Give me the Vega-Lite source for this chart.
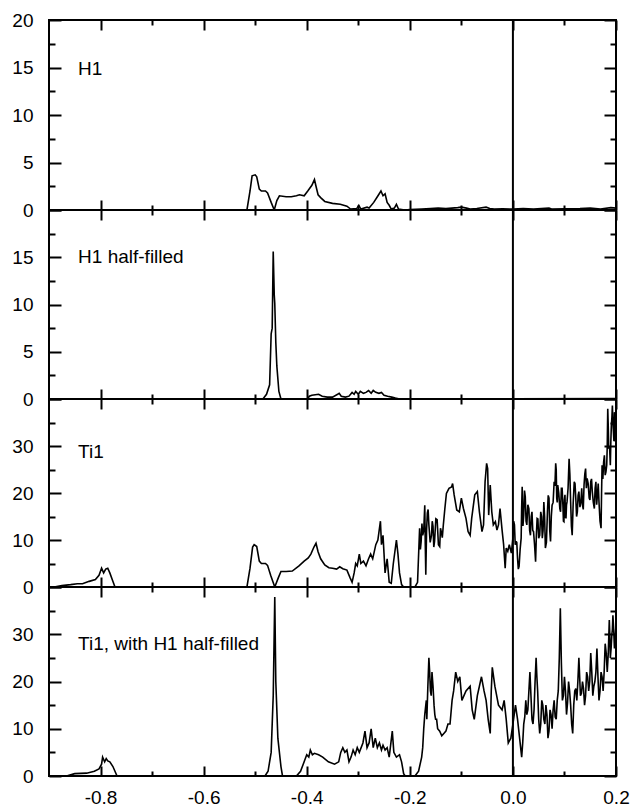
{
  "$schema": "https://vega.github.io/schema/vega-lite/v6.json",
  "background": "white",
  "padding": {"left": 10, "top": 10, "right": 5, "bottom": 5},
  "config": {
    "view": {"stroke": "black", "strokeWidth": 2},
    "locale": {"number": {"decimal": ".", "thousands": ",", "grouping": [3], "currency": ["$", ""], "minus": "-"}},
    "axis": {"labelFont": "Liberation Sans", "labelFontSize": 19, "labelColor": "black", "tickColor": "black", "tickWidth": 2, "domain": false, "grid": false, "title": null, "labelOverlap": false, "labelBound": false, "labelFlush": false},
    "text": {"font": "Liberation Sans", "fontSize": 19, "color": "black"},
    "line": {"strokeWidth": 1.6, "color": "black"}
  },
  "datasets": {
    "h1": [
      {"x":-0.9,"y":0},{"x":-0.516,"y":0},{"x":-0.51,"y":2.0},{"x":-0.506,"y":3.6},{"x":-0.5,"y":3.7},{"x":-0.497,"y":3.5},{"x":-0.492,"y":2.2},{"x":-0.488,"y":2.0},{"x":-0.48,"y":2.0},{"x":-0.476,"y":1.8},{"x":-0.469,"y":0.8},{"x":-0.463,"y":0},{"x":-0.458,"y":1.0},{"x":-0.453,"y":1.5},{"x":-0.44,"y":1.4},{"x":-0.43,"y":1.4},{"x":-0.42,"y":1.5},{"x":-0.414,"y":1.6},{"x":-0.405,"y":1.5},{"x":-0.398,"y":2.0},{"x":-0.39,"y":2.6},{"x":-0.385,"y":3.2},{"x":-0.382,"y":2.5},{"x":-0.378,"y":1.6},{"x":-0.373,"y":1.3},{"x":-0.365,"y":0.9},{"x":-0.35,"y":0.7},{"x":-0.335,"y":0.6},{"x":-0.322,"y":0.4},{"x":-0.315,"y":0.1},{"x":-0.303,"y":0.15},{"x":-0.299,"y":0.5},{"x":-0.295,"y":0.1},{"x":-0.283,"y":0.3},{"x":-0.279,"y":0.2},{"x":-0.27,"y":0.8},{"x":-0.263,"y":1.4},{"x":-0.256,"y":2.0},{"x":-0.252,"y":1.5},{"x":-0.248,"y":1.7},{"x":-0.244,"y":0.8},{"x":-0.24,"y":0.5},{"x":-0.236,"y":0.1},{"x":-0.23,"y":0.2},{"x":-0.226,"y":0.6},{"x":-0.222,"y":0.1},{"x":-0.21,"y":0},{"x":-0.2,"y":0.05},{"x":-0.177,"y":0.1},{"x":-0.16,"y":0.15},{"x":-0.145,"y":0.2},{"x":-0.13,"y":0.15},{"x":-0.107,"y":0.25},{"x":-0.1,"y":0.3},{"x":-0.09,"y":0.2},{"x":-0.083,"y":0.1},{"x":-0.07,"y":0.15},{"x":-0.052,"y":0.3},{"x":-0.045,"y":0.15},{"x":-0.036,"y":0.1},{"x":-0.02,"y":0.12},{"x":0,"y":0.1},{"x":0.02,"y":0.15},{"x":0.04,"y":0.1},{"x":0.07,"y":0.2},{"x":0.075,"y":0.1},{"x":0.1,"y":0.12},{"x":0.13,"y":0.15},{"x":0.15,"y":0.2},{"x":0.17,"y":0.1},{"x":0.19,"y":0.25},{"x":0.2,"y":0.2}
    ],
    "h1h": [
      {"x":-0.9,"y":0},{"x":-0.485,"y":0},{"x":-0.478,"y":0.5},{"x":-0.472,"y":1.5},{"x":-0.469,"y":6.9},{"x":-0.467,"y":7.5},{"x":-0.465,"y":15.6},{"x":-0.463,"y":11},{"x":-0.462,"y":10.1},{"x":-0.46,"y":6},{"x":-0.458,"y":3.5},{"x":-0.454,"y":0.8},{"x":-0.45,"y":0},{"x":-0.398,"y":0},{"x":-0.395,"y":0.3},{"x":-0.39,"y":0.4},{"x":-0.377,"y":0.5},{"x":-0.37,"y":0.3},{"x":-0.36,"y":0.2},{"x":-0.35,"y":0.2},{"x":-0.34,"y":0.5},{"x":-0.337,"y":0.6},{"x":-0.333,"y":0.3},{"x":-0.325,"y":0.2},{"x":-0.318,"y":0.3},{"x":-0.312,"y":0.7},{"x":-0.308,"y":0.5},{"x":-0.305,"y":0.8},{"x":-0.3,"y":0.5},{"x":-0.296,"y":0.8},{"x":-0.29,"y":0.6},{"x":-0.285,"y":0.7},{"x":-0.28,"y":0.9},{"x":-0.275,"y":0.6},{"x":-0.271,"y":0.9},{"x":-0.266,"y":0.7},{"x":-0.26,"y":0.6},{"x":-0.255,"y":0.7},{"x":-0.25,"y":0.4},{"x":-0.243,"y":0.3},{"x":-0.235,"y":0.2},{"x":-0.228,"y":0.1},{"x":-0.22,"y":0},{"x":-0.15,"y":0.03},{"x":0,"y":0.02},{"x":0.2,"y":0.05}
    ],
    "ti1": [
      {"x":-0.9,"y":0},{"x":-0.89,"y":0},{"x":-0.875,"y":0.3},{"x":-0.858,"y":0.5},{"x":-0.845,"y":0.7},{"x":-0.835,"y":0.7},{"x":-0.822,"y":1.2},{"x":-0.81,"y":1.6},{"x":-0.803,"y":2.5},{"x":-0.798,"y":4.0},{"x":-0.794,"y":3.0},{"x":-0.79,"y":3.8},{"x":-0.786,"y":4.0},{"x":-0.782,"y":3.0},{"x":-0.777,"y":1.5},{"x":-0.772,"y":0},{"x":-0.516,"y":0},{"x":-0.51,"y":4},{"x":-0.505,"y":8.5},{"x":-0.502,"y":9.0},{"x":-0.497,"y":8.6},{"x":-0.492,"y":5.5},{"x":-0.488,"y":5.0},{"x":-0.48,"y":5.0},{"x":-0.476,"y":4.6},{"x":-0.47,"y":2.5},{"x":-0.462,"y":0},{"x":-0.455,"y":2.0},{"x":-0.45,"y":3.3},{"x":-0.44,"y":3.3},{"x":-0.428,"y":3.4},{"x":-0.415,"y":4.5},{"x":-0.405,"y":5.5},{"x":-0.397,"y":6.2},{"x":-0.392,"y":7.0},{"x":-0.386,"y":8.5},{"x":-0.382,"y":9.3},{"x":-0.378,"y":7.5},{"x":-0.373,"y":6.0},{"x":-0.365,"y":4.7},{"x":-0.357,"y":4.1},{"x":-0.35,"y":4.0},{"x":-0.342,"y":3.8},{"x":-0.336,"y":4.3},{"x":-0.33,"y":3.9},{"x":-0.322,"y":3.6},{"x":-0.316,"y":2.0},{"x":-0.312,"y":1.0},{"x":-0.308,"y":3.0},{"x":-0.305,"y":5.0},{"x":-0.302,"y":4.5},{"x":-0.298,"y":7.0},{"x":-0.295,"y":5.0},{"x":-0.29,"y":5.5},{"x":-0.285,"y":4.5},{"x":-0.28,"y":6.0},{"x":-0.276,"y":7.0},{"x":-0.272,"y":6.0},{"x":-0.266,"y":9.0},{"x":-0.262,"y":10.0},{"x":-0.257,"y":14.0},{"x":-0.255,"y":9.0},{"x":-0.252,"y":11.0},{"x":-0.248,"y":3.0},{"x":-0.244,"y":6},{"x":-0.24,"y":1.0},{"x":-0.236,"y":0.8},{"x":-0.232,"y":5.0},{"x":-0.226,"y":10.0},{"x":-0.223,"y":7},{"x":-0.22,"y":3.0},{"x":-0.216,"y":0.5},{"x":-0.212,"y":0},{"x":-0.19,"y":0},{"x":-0.185,"y":1},{"x":-0.181,"y":12.5},{"x":-0.1795,"y":8},{"x":-0.178,"y":9.7},{"x":-0.1765,"y":13.5},{"x":-0.175,"y":11},{"x":-0.173,"y":12},{"x":-0.171,"y":17.4},{"x":-0.17,"y":9},{"x":-0.169,"y":2.6},{"x":-0.1675,"y":12},{"x":-0.166,"y":15.7},{"x":-0.1645,"y":16.5},{"x":-0.163,"y":13.2},{"x":-0.1605,"y":9.5},{"x":-0.158,"y":11},{"x":-0.1565,"y":14},{"x":-0.155,"y":12.9},{"x":-0.1535,"y":8.5},{"x":-0.152,"y":9.7},{"x":-0.1495,"y":14.5},{"x":-0.147,"y":14.3},{"x":-0.1445,"y":9},{"x":-0.142,"y":8.6},{"x":-0.1405,"y":12.5},{"x":-0.139,"y":11.8},{"x":-0.137,"y":10.5},{"x":-0.135,"y":13.2},{"x":-0.132,"y":16.7},{"x":-0.129,"y":19.9},{"x":-0.124,"y":21},{"x":-0.119,"y":21.3},{"x":-0.117,"y":22},{"x":-0.114,"y":19.6},{"x":-0.109,"y":16.4},{"x":-0.104,"y":16},{"x":-0.1,"y":18.9},{"x":-0.096,"y":16.7},{"x":-0.091,"y":14.6},{"x":-0.087,"y":11.8},{"x":-0.083,"y":11},{"x":-0.08,"y":14.6},{"x":-0.074,"y":19.6},{"x":-0.069,"y":20.3},{"x":-0.065,"y":16},{"x":-0.06,"y":11.8},{"x":-0.057,"y":13.2},{"x":-0.054,"y":22.4},{"x":-0.051,"y":26.3},{"x":-0.049,"y":25.2},{"x":-0.047,"y":15.3},{"x":-0.044,"y":21.7},{"x":-0.041,"y":16},{"x":-0.038,"y":13.2},{"x":-0.034,"y":13.9},{"x":-0.031,"y":12.1},{"x":-0.028,"y":13.2},{"x":-0.025,"y":16.7},{"x":-0.021,"y":12.1},{"x":-0.018,"y":9},{"x":-0.015,"y":4},{"x":-0.013,"y":8.3},{"x":-0.01,"y":7.6},{"x":-0.007,"y":9},{"x":-0.003,"y":7.2},{"x":0,"y":10.4},{"x":0.0015,"y":14},{"x":0.003,"y":13.2},{"x":0.0045,"y":9},{"x":0.006,"y":9.7},{"x":0.0075,"y":9.5},{"x":0.009,"y":6.1},{"x":0.0105,"y":3.8},{"x":0.012,"y":4.4},{"x":0.014,"y":8},{"x":0.016,"y":10.4},{"x":0.017,"y":17},{"x":0.018,"y":21.3},{"x":0.0195,"y":13},{"x":0.021,"y":15.3},{"x":0.0225,"y":20.5},{"x":0.024,"y":19.2},{"x":0.0255,"y":14},{"x":0.027,"y":13.2},{"x":0.029,"y":17.5},{"x":0.031,"y":16.7},{"x":0.0325,"y":12},{"x":0.034,"y":11},{"x":0.0355,"y":15},{"x":0.037,"y":16},{"x":0.0385,"y":12},{"x":0.04,"y":11.8},{"x":0.042,"y":9},{"x":0.044,"y":5.4},{"x":0.0455,"y":11},{"x":0.047,"y":14.6},{"x":0.0485,"y":14.5},{"x":0.05,"y":10.4},{"x":0.052,"y":11},{"x":0.054,"y":16},{"x":0.0555,"y":15},{"x":0.057,"y":10.4},{"x":0.0585,"y":12},{"x":0.06,"y":18.1},{"x":0.0615,"y":15},{"x":0.063,"y":8.3},{"x":0.065,"y":9.5},{"x":0.067,"y":16},{"x":0.0685,"y":19.5},{"x":0.07,"y":18.9},{"x":0.0715,"y":12},{"x":0.073,"y":9.7},{"x":0.0745,"y":15},{"x":0.076,"y":17.4},{"x":0.078,"y":18},{"x":0.08,"y":22.4},{"x":0.0815,"y":21.5},{"x":0.083,"y":26.3},{"x":0.084,"y":25},{"x":0.085,"y":18.9},{"x":0.086,"y":18},{"x":0.087,"y":21.7},{"x":0.089,"y":20},{"x":0.091,"y":16.7},{"x":0.0925,"y":16},{"x":0.094,"y":21},{"x":0.0955,"y":21},{"x":0.097,"y":17.4},{"x":0.098,"y":14},{"x":0.099,"y":13.9},{"x":0.1,"y":18.5},{"x":0.101,"y":19.6},{"x":0.102,"y":15},{"x":0.103,"y":14.6},{"x":0.104,"y":17.5},{"x":0.105,"y":18.1},{"x":0.107,"y":21},{"x":0.109,"y":27.3},{"x":0.1105,"y":24},{"x":0.112,"y":18.1},{"x":0.1135,"y":13},{"x":0.115,"y":11},{"x":0.117,"y":18},{"x":0.119,"y":22.4},{"x":0.1205,"y":22},{"x":0.122,"y":18.9},{"x":0.1235,"y":15},{"x":0.125,"y":16},{"x":0.1265,"y":19.5},{"x":0.128,"y":20.3},{"x":0.13,"y":17},{"x":0.132,"y":18.1},{"x":0.1335,"y":21},{"x":0.135,"y":17.4},{"x":0.1365,"y":16.5},{"x":0.138,"y":21.7},{"x":0.1395,"y":24},{"x":0.141,"y":25.2},{"x":0.1425,"y":21},{"x":0.144,"y":23.1},{"x":0.146,"y":22},{"x":0.148,"y":18.9},{"x":0.1495,"y":18.5},{"x":0.151,"y":22.4},{"x":0.1525,"y":23},{"x":0.154,"y":20.3},{"x":0.156,"y":18},{"x":0.158,"y":16.7},{"x":0.1595,"y":21},{"x":0.161,"y":22.4},{"x":0.1625,"y":17.5},{"x":0.164,"y":19.6},{"x":0.1655,"y":22},{"x":0.167,"y":18.1},{"x":0.169,"y":14},{"x":0.171,"y":12.5},{"x":0.172,"y":20},{"x":0.173,"y":25.9},{"x":0.1745,"y":23},{"x":0.176,"y":26.6},{"x":0.1775,"y":28},{"x":0.179,"y":23.8},{"x":0.1805,"y":24.5},{"x":0.182,"y":25.9},{"x":0.183,"y":30},{"x":0.184,"y":37.9},{"x":0.185,"y":34},{"x":0.186,"y":29.4},{"x":0.1875,"y":30},{"x":0.189,"y":25.9},{"x":0.19,"y":31},{"x":0.191,"y":34.4},{"x":0.192,"y":36},{"x":0.193,"y":38.6},{"x":0.194,"y":35},{"x":0.195,"y":33},{"x":0.196,"y":31},{"x":0.197,"y":37.2},{"x":0.198,"y":36},{"x":0.199,"y":30.9},{"x":0.2,"y":35.8}
    ],
    "ti1h": [
      {"x":-0.9,"y":0},{"x":-0.866,"y":0},{"x":-0.85,"y":0.5},{"x":-0.827,"y":0.6},{"x":-0.812,"y":1.0},{"x":-0.803,"y":1.5},{"x":-0.798,"y":2.5},{"x":-0.796,"y":4.0},{"x":-0.792,"y":3.0},{"x":-0.789,"y":3.7},{"x":-0.786,"y":3.2},{"x":-0.782,"y":3.0},{"x":-0.776,"y":2.0},{"x":-0.768,"y":0},{"x":-0.481,"y":0},{"x":-0.475,"y":1},{"x":-0.469,"y":5},{"x":-0.465,"y":17},{"x":-0.462,"y":37.9},{"x":-0.46,"y":20},{"x":-0.456,"y":8},{"x":-0.45,"y":2},{"x":-0.447,"y":0},{"x":-0.42,"y":0},{"x":-0.412,"y":1},{"x":-0.405,"y":3},{"x":-0.4,"y":4.5},{"x":-0.396,"y":4.0},{"x":-0.393,"y":5.5},{"x":-0.389,"y":4.5},{"x":-0.385,"y":4.8},{"x":-0.377,"y":4.5},{"x":-0.369,"y":4.0},{"x":-0.358,"y":3.0},{"x":-0.346,"y":2.5},{"x":-0.338,"y":3.0},{"x":-0.334,"y":5.0},{"x":-0.33,"y":6.0},{"x":-0.326,"y":5.0},{"x":-0.322,"y":5.5},{"x":-0.318,"y":3.0},{"x":-0.314,"y":4.0},{"x":-0.31,"y":5.5},{"x":-0.306,"y":4.5},{"x":-0.302,"y":6.0},{"x":-0.298,"y":5.0},{"x":-0.291,"y":7.0},{"x":-0.287,"y":9.5},{"x":-0.283,"y":6.0},{"x":-0.279,"y":7.0},{"x":-0.275,"y":10.0},{"x":-0.271,"y":6.0},{"x":-0.267,"y":8.0},{"x":-0.263,"y":6.0},{"x":-0.259,"y":7.0},{"x":-0.255,"y":5.5},{"x":-0.252,"y":6.5},{"x":-0.248,"y":5.5},{"x":-0.244,"y":6.0},{"x":-0.24,"y":4.0},{"x":-0.234,"y":9.5},{"x":-0.231,"y":5.0},{"x":-0.226,"y":4.0},{"x":-0.22,"y":4.5},{"x":-0.216,"y":3.0},{"x":-0.212,"y":0.5},{"x":-0.209,"y":0},{"x":-0.19,"y":0},{"x":-0.183,"y":1},{"x":-0.177,"y":4},{"x":-0.175,"y":6},{"x":-0.173,"y":10},{"x":-0.171,"y":13},{"x":-0.169,"y":15},{"x":-0.168,"y":16},{"x":-0.167,"y":12},{"x":-0.165,"y":19},{"x":-0.163,"y":25},{"x":-0.1615,"y":22},{"x":-0.16,"y":18},{"x":-0.1585,"y":17},{"x":-0.157,"y":22},{"x":-0.155,"y":19},{"x":-0.153,"y":15},{"x":-0.1515,"y":13},{"x":-0.15,"y":12},{"x":-0.148,"y":12},{"x":-0.146,"y":10},{"x":-0.142,"y":9.5},{"x":-0.138,"y":8.5},{"x":-0.134,"y":9},{"x":-0.13,"y":9.5},{"x":-0.126,"y":11},{"x":-0.122,"y":11},{"x":-0.118,"y":16},{"x":-0.115,"y":18},{"x":-0.111,"y":22},{"x":-0.107,"y":20},{"x":-0.103,"y":21},{"x":-0.099,"y":16},{"x":-0.091,"y":18},{"x":-0.083,"y":19},{"x":-0.079,"y":14},{"x":-0.075,"y":12},{"x":-0.069,"y":17},{"x":-0.061,"y":21},{"x":-0.056,"y":18},{"x":-0.052,"y":16},{"x":-0.048,"y":12},{"x":-0.044,"y":9},{"x":-0.042,"y":18},{"x":-0.04,"y":23},{"x":-0.035,"y":19},{"x":-0.028,"y":15},{"x":-0.021,"y":14},{"x":-0.017,"y":16},{"x":-0.013,"y":12},{"x":-0.009,"y":7},{"x":-0.004,"y":8},{"x":0,"y":11},{"x":0.0025,"y":13},{"x":0.005,"y":15},{"x":0.009,"y":12},{"x":0.013,"y":8},{"x":0.015,"y":6},{"x":0.017,"y":4},{"x":0.019,"y":7},{"x":0.021,"y":11},{"x":0.023,"y":12.5},{"x":0.025,"y":16},{"x":0.027,"y":13},{"x":0.029,"y":14},{"x":0.031,"y":18},{"x":0.033,"y":22},{"x":0.035,"y":17},{"x":0.037,"y":12},{"x":0.039,"y":11},{"x":0.041,"y":14},{"x":0.043,"y":20},{"x":0.045,"y":25},{"x":0.0465,"y":21},{"x":0.048,"y":18},{"x":0.05,"y":12},{"x":0.052,"y":9},{"x":0.054,"y":11},{"x":0.056,"y":16},{"x":0.058,"y":15},{"x":0.06,"y":12},{"x":0.062,"y":11},{"x":0.064,"y":15},{"x":0.066,"y":13},{"x":0.068,"y":8},{"x":0.07,"y":9.5},{"x":0.072,"y":14},{"x":0.074,"y":13},{"x":0.076,"y":10},{"x":0.078,"y":14},{"x":0.08,"y":16},{"x":0.082,"y":12.5},{"x":0.084,"y":12},{"x":0.086,"y":16},{"x":0.088,"y":18},{"x":0.09,"y":25},{"x":0.092,"y":35.5},{"x":0.094,"y":24},{"x":0.096,"y":16},{"x":0.098,"y":17},{"x":0.1,"y":21},{"x":0.102,"y":18},{"x":0.104,"y":13},{"x":0.106,"y":15.5},{"x":0.108,"y":20},{"x":0.11,"y":18},{"x":0.112,"y":15},{"x":0.114,"y":11},{"x":0.116,"y":9},{"x":0.118,"y":15},{"x":0.12,"y":18},{"x":0.122,"y":18.5},{"x":0.124,"y":16},{"x":0.126,"y":20},{"x":0.128,"y":25},{"x":0.1295,"y":21},{"x":0.131,"y":17},{"x":0.133,"y":17.5},{"x":0.135,"y":20},{"x":0.137,"y":18.5},{"x":0.139,"y":15},{"x":0.141,"y":17},{"x":0.143,"y":22},{"x":0.145,"y":21},{"x":0.147,"y":18},{"x":0.149,"y":20},{"x":0.151,"y":26},{"x":0.153,"y":22},{"x":0.155,"y":17},{"x":0.157,"y":19},{"x":0.159,"y":20},{"x":0.161,"y":22},{"x":0.163,"y":27},{"x":0.165,"y":21},{"x":0.167,"y":16},{"x":0.169,"y":18},{"x":0.171,"y":22},{"x":0.173,"y":21},{"x":0.175,"y":18},{"x":0.177,"y":22},{"x":0.179,"y":28},{"x":0.181,"y":26},{"x":0.183,"y":22},{"x":0.185,"y":26},{"x":0.187,"y":33},{"x":0.188,"y":30},{"x":0.189,"y":25},{"x":0.1905,"y":27},{"x":0.192,"y":30},{"x":0.193,"y":31},{"x":0.194,"y":34},{"x":0.1955,"y":31},{"x":0.197,"y":27},{"x":0.1985,"y":29},{"x":0.2,"y":32}
    ]
  },
  "vconcat": [
    {
      "width": 567, "height": 190,
      "layer": [
        {"data": {"name": "h1"}, "mark": {"type": "line", "clip": true},
         "encoding": {
           "x": {"field": "x", "type": "quantitative", "scale": {"domain": [-0.9, 0.2], "nice": false, "zero": false},
                 "axis": {"orient": "bottom", "values": [-0.8,-0.7,-0.6,-0.5,-0.4,-0.3,-0.2,-0.1,0,0.1,0.2], "labels": false, "tickSize": {"condition": {"test": "abs(datum.value*5 - round(datum.value*5)) < 0.001", "value": -10}, "value": -5}}},
           "y": {"field": "y", "type": "quantitative", "scale": {"domain": [0, 20], "nice": false},
                 "axis": {"orient": "left", "values": [0,2.5,5,7.5,10,12.5,15,17.5,20], "format": "d", "labelExpr": "datum.value % 5 == 0 ? datum.label : ''", "labelPadding": 28, "tickSize": {"condition": {"test": "datum.value % 5 == 0", "value": -12}, "value": -6}}}
         }},
        {"data": {"values": [{"v": 0}]}, "mark": {"type": "rule", "color": "black", "strokeWidth": 2},
         "encoding": {
           "x": {"datum": 0, "type": "quantitative", "axis": {"orient": "top", "values": [-0.8,-0.7,-0.6,-0.5,-0.4,-0.3,-0.2,-0.1,0,0.1,0.2], "labels": false, "tickSize": {"condition": {"test": "abs(datum.value*5 - round(datum.value*5)) < 0.001", "value": -10}, "value": -5}}},
           "y": {"datum": 0, "type": "quantitative", "axis": {"orient": "right", "values": [0,2.5,5,7.5,10,12.5,15,17.5,20], "labels": false, "tickSize": {"condition": {"test": "datum.value % 5 == 0", "value": -12}, "value": -6}}},
           "y2": {"datum": 20}
         }},
        {"data": {"values": [{"label": "H1"}]}, "mark": {"type": "text", "align": "left", "baseline": "middle"},
         "encoding": {"x": {"datum": -0.8436, "type": "quantitative", "axis": null}, "y": {"datum": 14.8, "type": "quantitative", "axis": null}, "text": {"field": "label"}}}
      ],
      "resolve": {"axis": {"x": "independent", "y": "independent"}}
    },
    {
      "width": 567, "height": 189,
      "layer": [
        {"data": {"name": "h1h"}, "mark": {"type": "line", "clip": true},
         "encoding": {
           "x": {"field": "x", "type": "quantitative", "scale": {"domain": [-0.9, 0.2], "nice": false, "zero": false},
                 "axis": {"orient": "bottom", "values": [-0.8,-0.7,-0.6,-0.5,-0.4,-0.3,-0.2,-0.1,0,0.1,0.2], "labels": false, "tickSize": {"condition": {"test": "abs(datum.value*5 - round(datum.value*5)) < 0.001", "value": -10}, "value": -5}}},
           "y": {"field": "y", "type": "quantitative", "scale": {"domain": [0, 20], "nice": false},
                 "axis": {"orient": "left", "values": [0,2.5,5,7.5,10,12.5,15,17.5,20], "format": "d", "labelExpr": "datum.value % 5 == 0 && datum.value < 20 ? datum.label : ''", "labelPadding": 28, "tickSize": {"condition": {"test": "datum.value % 5 == 0", "value": -12}, "value": -6}}}
         }},
        {"data": {"values": [{"v": 0}]}, "mark": {"type": "rule", "color": "black", "strokeWidth": 2},
         "encoding": {
           "x": {"datum": 0, "type": "quantitative", "axis": {"orient": "top", "values": [-0.8,-0.7,-0.6,-0.5,-0.4,-0.3,-0.2,-0.1,0,0.1,0.2], "labels": false, "tickSize": {"condition": {"test": "abs(datum.value*5 - round(datum.value*5)) < 0.001", "value": -10}, "value": -5}}},
           "y": {"datum": 0, "type": "quantitative", "axis": {"orient": "right", "values": [0,2.5,5,7.5,10,12.5,15,17.5,20], "labels": false, "tickSize": {"condition": {"test": "datum.value % 5 == 0", "value": -12}, "value": -6}}},
           "y2": {"datum": 20}
         }},
        {"data": {"values": [{"label": "H1 half-filled"}]}, "mark": {"type": "text", "align": "left", "baseline": "middle"},
         "encoding": {"x": {"datum": -0.8436, "type": "quantitative", "axis": null}, "y": {"datum": 15, "type": "quantitative", "axis": null}, "text": {"field": "label"}}}
      ],
      "resolve": {"axis": {"x": "independent", "y": "independent"}}
    },
    {
      "width": 567, "height": 188,
      "layer": [
        {"data": {"name": "ti1"}, "mark": {"type": "line", "clip": true},
         "encoding": {
           "x": {"field": "x", "type": "quantitative", "scale": {"domain": [-0.9, 0.2], "nice": false, "zero": false},
                 "axis": {"orient": "bottom", "values": [-0.8,-0.7,-0.6,-0.5,-0.4,-0.3,-0.2,-0.1,0,0.1,0.2], "labels": false, "tickSize": {"condition": {"test": "abs(datum.value*5 - round(datum.value*5)) < 0.001", "value": -10}, "value": -5}}},
           "y": {"field": "y", "type": "quantitative", "scale": {"domain": [0, 40], "nice": false},
                 "axis": {"orient": "left", "values": [0,5,10,15,20,25,30,35,40], "format": "d", "labelExpr": "datum.value % 10 == 0 && datum.value < 40 ? datum.label : ''", "labelPadding": 28, "tickSize": {"condition": {"test": "datum.value % 10 == 0", "value": -12}, "value": -6}}}
         }},
        {"data": {"values": [{"v": 0}]}, "mark": {"type": "rule", "color": "black", "strokeWidth": 2},
         "encoding": {
           "x": {"datum": 0, "type": "quantitative", "axis": {"orient": "top", "values": [-0.8,-0.7,-0.6,-0.5,-0.4,-0.3,-0.2,-0.1,0,0.1,0.2], "labels": false, "tickSize": {"condition": {"test": "abs(datum.value*5 - round(datum.value*5)) < 0.001", "value": -10}, "value": -5}}},
           "y": {"datum": 0, "type": "quantitative", "axis": {"orient": "right", "values": [0,5,10,15,20,25,30,35,40], "labels": false, "tickSize": {"condition": {"test": "datum.value % 10 == 0", "value": -12}, "value": -6}}},
           "y2": {"datum": 40}
         }},
        {"data": {"values": [{"label": "Ti1"}]}, "mark": {"type": "text", "align": "left", "baseline": "middle"},
         "encoding": {"x": {"datum": -0.8436, "type": "quantitative", "axis": null}, "y": {"datum": 28.7, "type": "quantitative", "axis": null}, "text": {"field": "label"}}}
      ],
      "resolve": {"axis": {"x": "independent", "y": "independent"}}
    },
    {
      "width": 567, "height": 189,
      "layer": [
        {"data": {"name": "ti1h"}, "mark": {"type": "line", "clip": true},
         "encoding": {
           "x": {"field": "x", "type": "quantitative", "scale": {"domain": [-0.9, 0.2], "nice": false, "zero": false},
                 "axis": {"orient": "bottom", "values": [-0.8,-0.7,-0.6,-0.5,-0.4,-0.3,-0.2,-0.1,0,0.1,0.2], "format": ".1f", "labelExpr": "abs(datum.value*5 - round(datum.value*5)) < 0.001 ? datum.label : ''", "labelPadding": 22, "tickSize": {"condition": {"test": "abs(datum.value*5 - round(datum.value*5)) < 0.001", "value": -10}, "value": -5}}},
           "y": {"field": "y", "type": "quantitative", "scale": {"domain": [0, 40], "nice": false},
                 "axis": {"orient": "left", "values": [0,5,10,15,20,25,30,35,40], "format": "d", "labelExpr": "datum.value % 10 == 0 && datum.value < 40 ? datum.label : ''", "labelPadding": 28, "tickSize": {"condition": {"test": "datum.value % 10 == 0", "value": -12}, "value": -6}}}
         }},
        {"data": {"values": [{"v": 0}]}, "mark": {"type": "rule", "color": "black", "strokeWidth": 2},
         "encoding": {
           "x": {"datum": 0, "type": "quantitative", "axis": {"orient": "top", "values": [-0.8,-0.7,-0.6,-0.5,-0.4,-0.3,-0.2,-0.1,0,0.1,0.2], "labels": false, "tickSize": {"condition": {"test": "abs(datum.value*5 - round(datum.value*5)) < 0.001", "value": -10}, "value": -5}}},
           "y": {"datum": 0, "type": "quantitative", "axis": {"orient": "right", "values": [0,5,10,15,20,25,30,35,40], "labels": false, "tickSize": {"condition": {"test": "datum.value % 10 == 0", "value": -12}, "value": -6}}},
           "y2": {"datum": 40}
         }},
        {"data": {"values": [{"label": "Ti1, with H1 half-filled"}]}, "mark": {"type": "text", "align": "left", "baseline": "middle"},
         "encoding": {"x": {"datum": -0.8436, "type": "quantitative", "axis": null}, "y": {"datum": 27.9, "type": "quantitative", "axis": null}, "text": {"field": "label"}}}
      ],
      "resolve": {"axis": {"x": "independent", "y": "independent"}}
    }
  ],
  "spacing": 0,
  "bounds": "flush"
}
